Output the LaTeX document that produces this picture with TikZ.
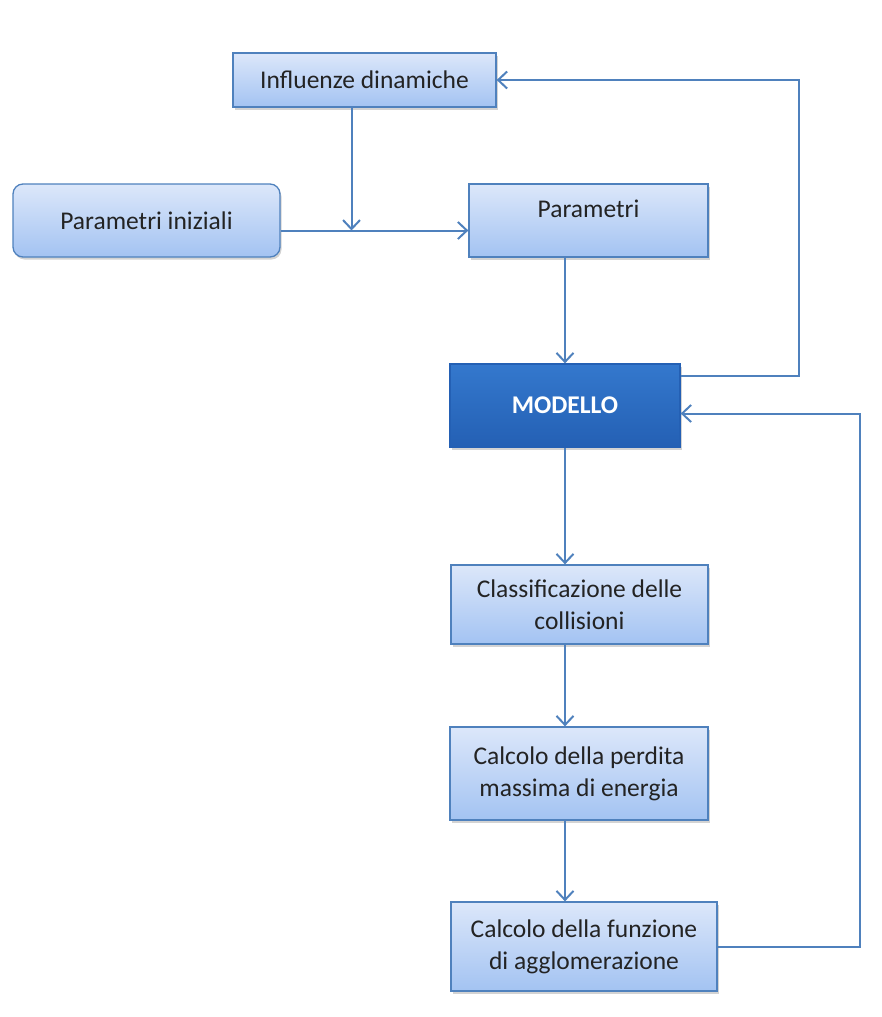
\documentclass[tikz,border=0pt]{standalone}
\usepackage{fontspec}
\setmainfont{Carlito}
\usetikzlibrary{arrows.meta,shadows}
\definecolor{linea}{RGB}{79,129,189}
\definecolor{boxtop}{RGB}{220,231,250}
\definecolor{boxbot}{RGB}{163,195,242}
\definecolor{modtop}{RGB}{52,120,205}
\definecolor{modbot}{RGB}{36,96,180}
\definecolor{testo}{RGB}{35,35,35}

\begin{document}
\begin{tikzpicture}[x=1pt,y=-1pt,
  font=\fontsize{25.5}{32}\selectfont,
  blocco/.style={draw=linea,line width=1.3pt,top color=boxtop,bottom color=boxbot,
    text=testo,align=center,inner sep=2pt,
    drop shadow={shadow xshift=1.5pt,shadow yshift=-2.5pt,opacity=0.35}},
  modello/.style={blocco,draw=modbot,top color=modtop,bottom color=modbot,
    text=white,font=\fontsize{25.5}{32}\selectfont\bfseries},
  freccia/.style={draw=linea,line width=2pt,-{Straight Barb[length=9pt,width=17pt]}}]
\useasboundingbox (0,0) rectangle (882,1017);

\node[blocco,minimum width=263pt,minimum height=54pt] (infl) at (364.5,80) {Influenze dinamiche};
\node[blocco,rounded corners=10pt,minimum width=267pt,minimum height=73pt] (init) at (146.5,220.5) {Parametri iniziali};
\node[blocco,text depth=24pt,minimum width=239pt,minimum height=73pt] (param) at (588.5,220.5) {Parametri};
\node[modello,minimum width=230pt,minimum height=83pt] (model) at (565,405.5) {MODELLO};
\node[blocco,minimum width=257pt,minimum height=79pt] (classif) at (579.5,604.5) {Classificazione delle\\collisioni};
\node[blocco,minimum width=258pt,minimum height=93pt] (perdita) at (579,773.5) {Calcolo della perdita\\massima di energia};
\node[blocco,minimum width=266pt,minimum height=89pt] (funz) at (584,946.5) {Calcolo della funzione\\di agglomerazione};

% ingresso dei parametri
\coordinate (uscita) at ([yshift=-10pt]init.east);
\coordinate (discesa) at ([xshift=-13pt]infl.south);
\draw[freccia] (uscita) -- (uscita -| param.west);
\draw[freccia] (discesa) -- (discesa |- uscita);

% catena principale
\draw[freccia] (param.south -| model.north) -- (model.north);
\draw[freccia] (model.south) -- (model.south |- classif.north);
\draw[freccia] (classif.south -| model.south) -- (model.south |- perdita.north);
\draw[freccia] (perdita.south -| model.south) -- (model.south |- funz.north);

% retroazioni
\draw[freccia] ([yshift=-13pt]model.north east) -- ++(118,0) |- (infl.east);
\draw[freccia] (funz.east) -- ++(142,0) |- ([yshift=-8pt]model.east);
\end{tikzpicture}
\end{document}
